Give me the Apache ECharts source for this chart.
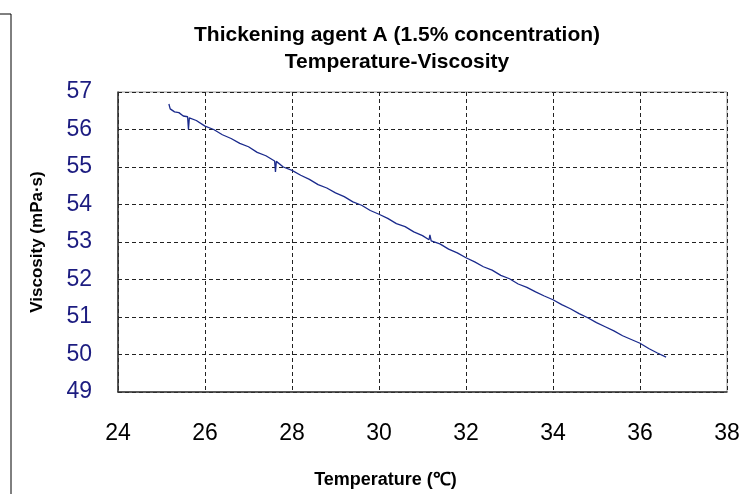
<!DOCTYPE html>
<html>
<head>
<meta charset="utf-8">
<script src="https://cdn.jsdelivr.net/npm/echarts@6/dist/echarts.min.js"></script>
<style>
  html, body { margin: 0; padding: 0; background: #fff; }
  #chart { width: 755px; height: 494px; }
</style>
</head>
<body>
<div id="chart"></div>
<script>
// 温度 (°C) と粘度 (mPa·s) の読み取り値
var temperature = [
  25.17, 25.2, 25.3, 25.4, 25.5, 25.6, 25.62, 25.64, 25.8, 26.0,
  26.2, 26.4, 26.6, 26.8, 27.0, 27.2, 27.4, 27.6, 27.62, 27.64,
  27.8, 28.0, 28.2, 28.4, 28.6, 28.8, 29.0, 29.2, 29.4, 29.6,
  29.8, 30.0, 30.2, 30.4, 30.6, 30.8, 31.0, 31.15, 31.17, 31.2,
  31.4, 31.6, 31.8, 32.0, 32.2, 32.4, 32.6, 32.8, 33.0, 33.2,
  33.4, 33.6, 33.8, 34.0, 34.2, 34.4, 34.6, 34.8, 35.0, 35.2,
  35.4, 35.6, 35.8, 36.0, 36.2, 36.4, 36.6
];
var viscosity = [
  56.68, 56.55, 56.47, 56.45, 56.36, 56.34, 56.00, 56.31, 56.24, 56.09,
  56.00, 55.86, 55.76, 55.63, 55.54, 55.39, 55.30, 55.16, 54.87, 55.15,
  55.00, 54.91, 54.78, 54.67, 54.53, 54.44, 54.31, 54.21, 54.07, 53.98,
  53.84, 53.74, 53.63, 53.49, 53.41, 53.27, 53.17, 53.06, 53.19, 53.03,
  52.95, 52.81, 52.71, 52.58, 52.47, 52.34, 52.25, 52.11, 52.02, 51.88,
  51.79, 51.67, 51.56, 51.46, 51.33, 51.22, 51.09, 50.98, 50.85, 50.74,
  50.63, 50.50, 50.40, 50.30, 50.16, 50.04, 49.93
];
var xTicks = [24, 38, 2];   // min, max, interval
var yTicks = [49, 57, 1];

var points = temperature.map(function (t, i) { return [t, viscosity[i]]; });

var chart = echarts.init(document.getElementById('chart'));

var option = {
    backgroundColor: '#fff',
    animation: false,
    title: {
        text: 'Thickening agent A (1.5% concentration)\nTemperature-Viscosity',
        left: 392,
        textAlign: 'center',
        top: 17,
        textStyle: {
            fontFamily: 'Liberation Sans',
            fontSize: 21,
            fontWeight: 'bold',
            color: '#000',
            lineHeight: 27
        }
    },
    // 外枠の線
    graphic: [
        { type: 'line', shape: { x1: 11, y1: 14, x2: 11, y2: 494 }, style: { stroke: '#000', lineWidth: 1 } },
        { type: 'line', shape: { x1: 0, y1: 14, x2: 11, y2: 14 }, style: { stroke: '#000', lineWidth: 1 } }
    ],
    grid: {
        left: 118, right: 28, top: 92, bottom: 102,
        show: true,
        borderColor: '#999',
        borderWidth: 1
    },
    xAxis: {
        type: 'value',
        min: xTicks[0], max: xTicks[1], interval: xTicks[2],
        name: 'Temperature (℃)',
        nameLocation: 'middle',
        nameGap: 79,
        // 軸名はプロット中央より少し左寄り
        nameTextStyle: { fontFamily: 'Liberation Sans', fontSize: 18, fontWeight: 'bold', color: '#000', padding: [0, 74, 0, 0] },
        axisLine: { lineStyle: { color: '#333', width: 1.5 } },
        axisTick: { show: false },
        axisLabel: { fontFamily: 'Liberation Sans', fontSize: 23, color: '#000', margin: 30 },
        splitLine: { lineStyle: { color: '#222', type: [4, 3], width: 1 } }
    },
    yAxis: {
        type: 'value',
        min: yTicks[0], max: yTicks[1], interval: yTicks[2],
        name: 'Viscosity (mPa·s)',
        nameLocation: 'middle',
        nameGap: 72,
        nameTextStyle: { fontFamily: 'Liberation Sans', fontSize: 17, fontWeight: 'bold', color: '#000' },
        axisLine: { show: true, lineStyle: { color: '#333', width: 1.5 } },
        axisTick: { show: false },
        axisLabel: { fontFamily: 'Liberation Sans', fontSize: 23, color: '#1c1c80', margin: 26 },
        splitLine: { lineStyle: { color: '#222', type: [4, 3], width: 1 } }
    },
    series: [{
        type: 'line',
        data: points,
        showSymbol: false,
        lineStyle: { color: '#1a2a8c', width: 1.3 }
    }]
};

chart.setOption(option);
</script>
</body>
</html>
